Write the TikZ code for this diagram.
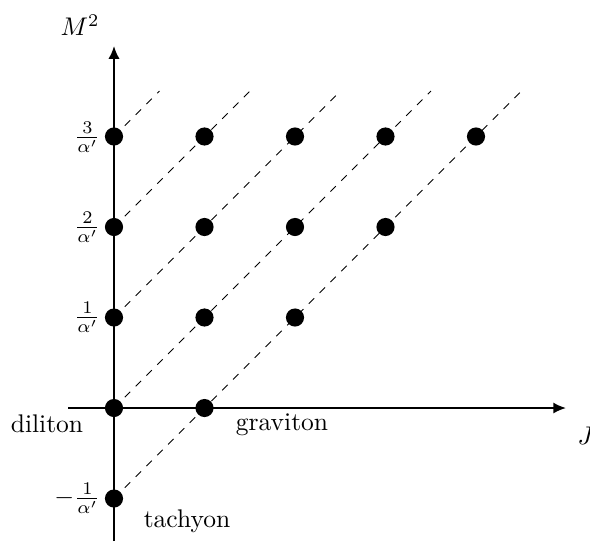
\documentclass[tikz,border=0pt]{standalone}
\usetikzlibrary{arrows.meta}
\begin{document}
\begin{tikzpicture}[x={(0.01378cm,0)}, y={(0,-0.01378cm)},
  dot/.style={circle, fill=black, inner sep=0pt, minimum size=0.25cm},
  axisline/.style={line width=0.8pt, -{Latex[length=5pt, width=4.4pt]}},
  trail/.style={dashed, line width=0.4pt},
  lbl/.style={inner sep=0pt}]
\useasboundingbox (0,0) rectangle (590,541);
% axes
\coordinate (vb) at (114,541);
\coordinate (vt) at (114,46);
\coordinate (hl) at (68,408);
\coordinate (hr) at (566,408);
\draw[axisline] (vb) -- (vt);
\draw[axisline] (hl) -- (hr);
% dots
\foreach \j in {0,...,4}{
  \foreach \i in {0,...,\j}{
    \node[dot] (p\i\j) at ({114+90.5*\i},{498.5-90.5*\j}) {};
  }
  \coordinate (e\j) at ({114+407.5-90.5*\j},91);
}
% dashed trajectories
\foreach \j in {0,...,4}{
  \draw[trail] (p0\j.center) -- (e\j);
}
% labels
\node[lbl] (m2) at (80,25) {$M^2$};
\node[lbl, anchor=east] (l3) at (101,137) {$\frac{3}{\alpha'}$};
\node[lbl, anchor=east] (l2) at (101,227) {$\frac{2}{\alpha'}$};
\node[lbl, anchor=east] (l1) at (101,317.5) {$\frac{1}{\alpha'}$};
\node[lbl, anchor=east] (lm1) at (101,498.5) {$-\frac{1}{\alpha'}$};
\node[lbl] (dil) at (47,424) {diliton};
\node[lbl] (grav) at (282,425) {graviton};
\node[lbl] (tach) at (187,521) {tachyon};
\node[lbl] (jl) at (586,436) {$J$};
\end{tikzpicture}
\end{document}
